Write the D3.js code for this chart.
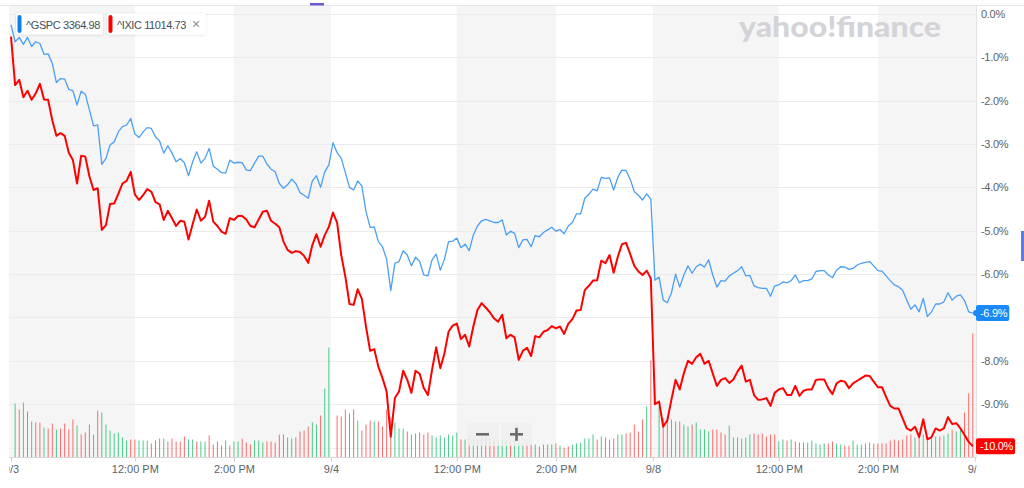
<!DOCTYPE html>
<html><head><meta charset="utf-8">
<script src="https://cdn.jsdelivr.net/npm/d3@7"></script>
<style>
html,body{margin:0;padding:0;background:#fff;}
svg{display:block;font-family:"Liberation Sans",Arial,Helvetica,sans-serif;}
</style></head><body>
<svg id="chart" width="1024" height="488"></svg>
<script>
// ---- data: 5-minute bars, 78 per session (9/3, 9/4, 9/8), % change from 9/3 open ----
const seriesNames = ["^GSPC", "^IXIC"];
const lastPrices = ["3364.98", "11014.73"];

const spx = [
-0.25,-0.64,-0.54,-0.70,-0.54,-0.75,-0.64,-0.68,-0.93,-0.92,
-1.14,-1.58,-1.49,-1.50,-1.74,-1.77,-2.10,-1.78,-1.85,-2.21,
-2.58,-2.56,-3.47,-3.33,-3.02,-2.95,-2.72,-2.60,-2.56,-2.41,
-2.77,-2.85,-2.72,-2.62,-2.64,-2.83,-2.93,-3.21,-3.04,-3.21,
-3.41,-3.34,-3.43,-3.73,-3.41,-3.18,-3.44,-3.33,-3.10,-3.51,
-3.58,-3.66,-3.67,-3.37,-3.44,-3.42,-3.43,-3.60,-3.61,-3.44,
-3.28,-3.28,-3.46,-3.58,-3.64,-3.91,-4.02,-3.94,-3.81,-3.91,
-4.12,-4.18,-4.25,-3.85,-3.73,-4.00,-3.64,-3.48,
-2.97,-3.20,-3.33,-3.66,-4.00,-4.06,-3.85,-3.97,-4.56,-4.92,
-4.91,-5.25,-5.37,-5.66,-6.38,-5.75,-5.71,-5.46,-5.56,-5.81,
-5.61,-5.71,-6.02,-6.04,-5.67,-5.54,-5.91,-5.66,-5.25,-5.24,
-5.17,-5.39,-5.31,-5.46,-5.10,-4.89,-4.77,-4.74,-4.77,-4.81,
-4.81,-4.75,-5.10,-5.01,-5.06,-5.39,-5.21,-5.20,-5.37,-5.11,
-5.14,-5.04,-4.98,-4.92,-5.01,-4.97,-5.07,-4.89,-4.81,-4.61,
-4.61,-4.25,-4.16,-4.04,-4.08,-3.77,-3.79,-3.78,-4.06,-3.77,
-3.60,-3.61,-3.81,-4.10,-4.18,-4.29,-4.15,-4.27,
-6.14,-6.07,-6.60,-6.66,-6.43,-6.00,-6.30,-6.02,-5.81,-5.98,
-5.83,-5.77,-5.84,-5.67,-6.02,-6.30,-6.15,-6.16,-6.04,-5.98,
-5.92,-5.83,-6.04,-6.03,-6.27,-6.31,-6.33,-6.33,-6.51,-6.27,
-6.25,-6.18,-6.20,-6.15,-6.02,-6.20,-6.15,-6.15,-6.11,-5.94,
-5.92,-5.92,-6.02,-6.08,-5.91,-5.83,-5.84,-5.89,-5.87,-5.79,
-5.75,-5.73,-5.71,-5.81,-5.92,-5.93,-6.04,-6.15,-6.25,-6.29,
-6.37,-6.60,-6.81,-6.71,-6.87,-6.56,-6.98,-6.87,-6.69,-6.69,
-6.64,-6.43,-6.60,-6.51,-6.48,-6.61,-6.87,-6.90
];

const ixic = [
-0.52,-1.64,-1.52,-1.92,-1.77,-1.98,-1.83,-1.61,-1.97,-1.98,
-2.45,-2.81,-2.75,-2.81,-3.20,-3.37,-3.91,-3.27,-3.29,-3.75,
-4.06,-4.02,-4.98,-4.87,-4.38,-4.37,-4.15,-3.91,-3.85,-3.64,
-4.16,-4.29,-4.18,-4.04,-4.10,-4.34,-4.39,-4.75,-4.54,-4.71,
-4.89,-4.77,-4.79,-5.20,-4.85,-4.51,-4.77,-4.68,-4.31,-4.79,
-4.89,-5.02,-5.07,-4.71,-4.75,-4.66,-4.66,-4.74,-4.89,-4.92,
-4.74,-4.56,-4.54,-4.77,-4.84,-4.92,-5.25,-5.44,-5.51,-5.47,
-5.49,-5.58,-5.74,-5.33,-5.08,-5.37,-5.10,-4.91,
-4.58,-4.81,-5.56,-6.06,-6.69,-6.71,-6.35,-6.57,-7.21,-7.77,
-7.73,-8.14,-8.40,-8.71,-9.75,-8.86,-8.71,-8.23,-8.44,-8.74,
-8.23,-8.30,-8.63,-8.79,-8.21,-7.69,-8.17,-7.83,-7.33,-7.19,
-7.14,-7.50,-7.40,-7.67,-7.21,-6.83,-6.67,-6.77,-6.88,-7.02,
-7.10,-6.94,-7.48,-7.40,-7.46,-7.98,-7.77,-7.70,-7.89,-7.43,
-7.46,-7.33,-7.29,-7.20,-7.25,-7.21,-7.38,-7.15,-7.04,-6.84,
-6.83,-6.37,-6.27,-6.15,-6.14,-5.69,-5.75,-5.56,-5.97,-5.60,
-5.31,-5.28,-5.54,-5.81,-5.94,-6.02,-5.92,-6.10,
-9.00,-8.94,-9.52,-9.37,-8.89,-8.44,-8.66,-8.29,-8.00,-8.07,
-7.92,-7.84,-8.07,-8.00,-8.29,-8.58,-8.44,-8.40,-8.51,-8.43,
-8.25,-8.11,-8.48,-8.44,-8.79,-8.90,-8.89,-8.86,-9.04,-8.74,
-8.66,-8.63,-8.79,-8.79,-8.58,-8.81,-8.69,-8.66,-8.66,-8.44,
-8.43,-8.43,-8.63,-8.77,-8.52,-8.46,-8.48,-8.63,-8.52,-8.46,
-8.40,-8.34,-8.35,-8.48,-8.61,-8.61,-8.83,-9.04,-9.10,-9.10,
-9.33,-9.56,-9.61,-9.52,-9.76,-9.35,-9.81,-9.76,-9.56,-9.61,
-9.56,-9.30,-9.46,-9.44,-9.56,-9.71,-9.87,-9.97
];

// volume (relative units)
const volume = [
0, 54,48,55,46,36,35,35,30,29,34, 28,29,34,28,38,32,23,25,33,23,
47,45,33,27,24,25,20,17,18,18, 17,17,17,14,17,19,19,16,19,16,
16,21,18,18,16,16,16,22,13,16, 12,17,12,16,16,19,15,13,17,17,
15,16,16,15,23,23,20,19,20,26, 27,31,35,33,42,69,110,
0, 42,41,48,44,48,37,27,33,37,36, 36,31,48,40,35,29,29,26,23,24,
25,23,25,22,20,22,20,23,22,25, 18,18,19,19,18,20,20,19,19,18,
18,17,16,17,15,14,14,13,13,11, 13,13,13,14,12,10,11,13,14,15,
19,19,23,18,21,20,18,19,23,23, 24,25,33,26,38,51,97,
0, 50,39,38,38,36,36,33,31,33,35, 28,28,26,28,28,25,23,32,20,20,
19,20,23,24,23,24,21,23,23,16, 18,17,18,16,15,15,15,17,14,13,
14,14,16,14,13,12,12,17,13,13, 14,15,14,14,14,14,17,18,17,18,
22,23,20,23,23,21,20,21,21,22, 24,28,26,28,45,64,124
];
// bar direction: G = up, R = down, - = none
const volumeDir = [
"-GRGRGRRGRR","GRRRRGRRRG","RGGGGGGGRR","GGGRRRGRRR","RRGGRGGRRR","RGRGGRRRGG","GRRRRRGGRR","RRGGRGG",
"-RRRRRGRRRG","RRRRGGGRGG","RRRGGGGGGG","RGRGGGRRRG","GGRGGGRRGR","GGGRGRRGGG","GGGRGRRRGG","RRRRRGR",
"-GRRGGRGGRG","GGGRRRRGGG","GGGRRRRRRG","GRGRRRGGGG","GRRGGRRGGG","GGRRRRRRRR","RRGRGRGGRG","GRGGRRR"
].join("").split("");

// time axis ticks, in 5-minute bar units
const tickBars = [0, 30, 54, 77.5, 108, 132, 155.5, 186, 210, 233.5];
const tickLabels = ["9/3","12:00 PM","2:00 PM","9/4","12:00 PM","2:00 PM","9/8","12:00 PM","2:00 PM","9/9"];
const pctTicks = [0,-1,-2,-3,-4,-5,-6,-7,-8,-9,-10];

// ---- layout ----
const W = 1024, H = 488;
const plotL = 9, plotR = 976, plotT = 5, baseY = 457.5;
const svg = d3.select("#chart");

const x = d3.scaleLinear().domain([0, 233]).range([11, 972.8]);
const y = d3.scaleLinear().domain([0, -10]).range([14, 447.5]);
const v = d3.scaleLinear().domain([0, 130]).range([baseY, baseY - 130]);

const defs = svg.append("defs");
const sh = defs.append("filter").attr("id","shadow").attr("x","-20%").attr("y","-30%").attr("width","140%").attr("height","170%");
sh.append("feDropShadow").attr("dx",0).attr("dy",0.5).attr("stdDeviation",1).attr("flood-color","#000").attr("flood-opacity",0.15);
defs.append("clipPath").attr("id","xclip").append("rect").attr("x",plotL).attr("y",-2).attr("width",plotR-plotL+0.5).attr("height",32);
defs.append("clipPath").attr("id","plotclip").append("rect").attr("x",plotL).attr("y",plotT).attr("width",plotR-plotL).attr("height",baseY-plotT);

// top border
svg.append("line").attr("x1",0).attr("x2",W).attr("y1",5.5).attr("y2",5.5).attr("stroke","#e6e6e6");

// alternating bands
const bounds = [plotL, ...tickBars.slice(1, -1).map(x), plotR];
const bandG = svg.append("g");
for (let k = 0; k < bounds.length - 1; k++) {
  if (k % 2 === 0) bandG.append("rect").attr("x", bounds[k]).attr("y", 6).attr("width", bounds[k+1]-bounds[k]).attr("height", baseY-6).attr("fill","#f5f5f5");
}

// horizontal grid
svg.append("g").selectAll("line").data(pctTicks).join("line")
  .attr("x1", plotL).attr("x2", plotR)
  .attr("y1", d => Math.round(y(d)) + 0.5).attr("y2", d => Math.round(y(d)) + 0.5)
  .attr("stroke", "#ebebeb");

// watermark logo
svg.append("text").attr("x", 739).attr("y", 37).attr("textLength", 202).attr("lengthAdjust","spacingAndGlyphs")
  .attr("font-family","Lato, 'Open Sans', sans-serif").attr("font-weight", 900).attr("font-size", 28)
  .attr("fill","#d3d3d8").text("yahoo!finance");

// volume bars
svg.append("g").selectAll("rect").data(volume).join("rect")
  .attr("x", (d,i) => x(i) - 0.5).attr("width", 1)
  .attr("y", d => v(d)).attr("height", d => baseY - v(d))
  .attr("fill", (d,i) => volumeDir[i] === "G" ? "#4cc98a" : "#ff6a6a")
  .attr("display", (d,i) => volumeDir[i] === "-" ? "none" : null);

// lines
const line = d3.line().x((d,i) => x(i)).y(d => y(d));
const lg = svg.append("g").attr("clip-path","url(#plotclip)");
lg.append("path").datum(spx).attr("d", line).attr("fill","none").attr("stroke","#4a9ff5").attr("stroke-width",1.3).attr("stroke-linejoin","round");
lg.append("path").datum(ixic).attr("d", line).attr("fill","none").attr("stroke","#ff0000").attr("stroke-width",2).attr("stroke-linejoin","round");

// right axis line
svg.append("line").attr("x1",plotR+0.5).attr("x2",plotR+0.5).attr("y1",5).attr("y2",baseY).attr("stroke","#e3e3e3");

// bottom axis
const xAxis = d3.axisBottom(x).tickValues(tickBars).tickFormat((d,i) => tickLabels[i]).tickSize(4).tickPadding(4);
const xg = svg.append("g").attr("transform", `translate(0,${baseY})`).call(xAxis).attr("clip-path","url(#xclip)");
xg.select(".domain").remove();
xg.selectAll(".tick line").attr("stroke","#cfcfcf");
xg.selectAll(".tick text").attr("fill","#5b636a").attr("font-size",11).attr("font-family","Liberation Sans, Arial, sans-serif");
svg.append("line").attr("x1",plotL).attr("x2",plotR).attr("y1",baseY).attr("y2",baseY).attr("stroke","#d6d6d6");

// badges for last values
const lastVals = [spx[spx.length-1], ixic[ixic.length-1]];
const badgeColors = ["#1a88f5", "#ff0000"];
const badgeY = lastVals.map(val => Math.min(y(val), baseY - 8));

// right axis labels (hide where a badge sits)
const yAxis = d3.axisRight(y).tickValues(pctTicks.filter(p => badgeY.every(b => Math.abs(y(p) - b) > 10)))
  .tickFormat(d => d.toFixed(1) + "%").tickSize(0).tickPadding(5);
const yg = svg.append("g").attr("transform", `translate(${plotR},0)`).call(yAxis);
yg.select(".domain").remove();
yg.selectAll(".tick text").attr("fill","#5b636a").attr("font-size",11).attr("letter-spacing",-0.3).attr("font-family","Liberation Sans, Arial, sans-serif");

lastVals.forEach((val, k) => {
  const g = svg.append("g");
  const t = val.toFixed(1) + "%";
  const txt = g.append("text").attr("x", plotR + 4).attr("y", badgeY[k]).attr("dy","0.35em")
    .attr("fill","#fff").attr("font-size",11).attr("letter-spacing",-0.3).text(t);
  const w = txt.node().getComputedTextLength();
  g.insert("rect","text").attr("x", plotR).attr("y", badgeY[k] - 8).attr("width", w + 6).attr("height", 16).attr("rx", 2).attr("fill", badgeColors[k]);
  if (k === 0) g.insert("circle","text").attr("cx", plotR).attr("cy", y(val)).attr("r", 3).attr("fill", badgeColors[k]);
});

// legend
const legColors = ["#0a7ff2", "#ff0000"];
let lx = 16;
seriesNames.forEach((name, k) => {
  const g = svg.append("g");
  const txt = g.append("text").attr("x", lx + 10).attr("y", 28.5).attr("font-size", 11).attr("letter-spacing",-0.4).attr("fill","#464e56")
    .text(name + " " + lastPrices[k]);
  const tw = txt.node().getComputedTextLength();
  let bw = tw + 13;
  if (k === 1) {
    g.append("text").attr("x", lx + 10 + tw + 6).attr("y", 29).attr("font-size", 14).attr("fill","#8a8f94").text("×");
    bw += 17;
  }
  g.insert("rect","text").attr("x", lx).attr("y", 13.5).attr("width", bw).attr("height", 21).attr("rx", 2)
    .attr("fill","#fff").attr("filter","url(#shadow)");
  g.insert("rect","text").attr("x", lx + 1.5).attr("y", 15).attr("width", 4).attr("height", 18).attr("rx", 2).attr("fill", legColors[k]);
  lx += bw + 4;
});

// small markers at the edges
svg.append("rect").attr("x",310).attr("y",3).attr("width",14).attr("height",2.5).attr("fill","#6a58d4");
svg.append("rect").attr("x",1021).attr("y",231).attr("width",3).attr("height",30).attr("fill","#5a7de6");

// zoom buttons
const zb = svg.append("g");
zb.append("rect").attr("x",467).attr("y",423).attr("width",65).attr("height",23).attr("rx",3).attr("fill","rgba(238,238,238,0.85)");
zb.append("line").attr("x1",500).attr("x2",500).attr("y1",424).attr("y2",445).attr("stroke","#fafafa").attr("stroke-width",1);
zb.append("rect").attr("x",476).attr("y",433).attr("width",13).attr("height",2.6).attr("fill","#6b6b6b");
zb.append("rect").attr("x",510).attr("y",433).attr("width",13).attr("height",2.6).attr("fill","#6b6b6b");
zb.append("rect").attr("x",515.2).attr("y",427.8).attr("width",2.6).attr("height",13).attr("fill","#6b6b6b");
</script>
</body></html>
